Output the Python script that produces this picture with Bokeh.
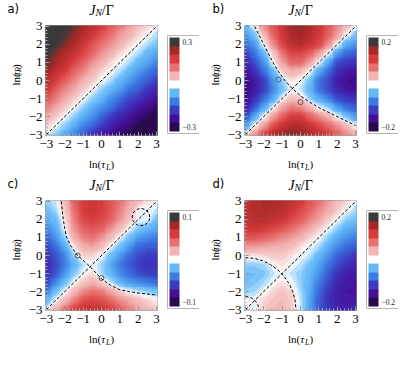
import numpy as np
from bokeh.plotting import figure
from bokeh.layouts import column, row
from bokeh.models import (LinearColorMapper, ColorBar, FixedTicker,
                          CustomJSTickFormatter, Label, Range1d)
from bokeh.embed import file_html
from bokeh.resources import INLINE

# ---------------- data ----------------
ln_tau = [-3.0, -2.5, -2.0, -1.5, -1.0, -0.5, 0.0, 0.5, 1.0, 1.5, 2.0, 2.5, 3.0]
axis_ticks = [-3, -2, -1, 0, 1, 2, 3]
panel_letters = ["a)", "b)", "c)", "d)"]
color_limits = [0.3, 0.2, 0.1, 0.2]

# rows: ln(tau_R) ascending, columns: ln(tau_L) ascending  (J_N / Gamma)
jn_a = [
    [0.00, -0.03, -0.07, -0.11, -0.15, -0.19, -0.22, -0.25, -0.28, -0.31, -0.33, -0.34, -0.35],
    [0.03, 0.00, -0.03, -0.07, -0.11, -0.14, -0.18, -0.21, -0.24, -0.26, -0.30, -0.32, -0.33],
    [0.07, 0.03, 0.00, -0.03, -0.07, -0.10, -0.14, -0.18, -0.21, -0.23, -0.26, -0.29, -0.31],
    [0.11, 0.07, 0.03, 0.00, -0.03, -0.07, -0.10, -0.13, -0.17, -0.20, -0.23, -0.25, -0.28],
    [0.15, 0.11, 0.07, 0.03, 0.00, -0.03, -0.06, -0.10, -0.13, -0.17, -0.19, -0.22, -0.24],
    [0.19, 0.14, 0.10, 0.07, 0.03, 0.00, -0.03, -0.06, -0.09, -0.13, -0.15, -0.19, -0.21],
    [0.22, 0.18, 0.14, 0.10, 0.06, 0.03, 0.00, -0.02, -0.06, -0.09, -0.12, -0.15, -0.18],
    [0.25, 0.21, 0.18, 0.13, 0.10, 0.06, 0.02, 0.00, -0.02, -0.06, -0.09, -0.12, -0.14],
    [0.28, 0.24, 0.21, 0.17, 0.13, 0.09, 0.06, 0.02, 0.00, -0.02, -0.06, -0.08, -0.11],
    [0.31, 0.26, 0.23, 0.20, 0.17, 0.13, 0.09, 0.06, 0.02, 0.00, -0.02, -0.06, -0.08],
    [0.32, 0.30, 0.26, 0.23, 0.19, 0.15, 0.12, 0.09, 0.06, 0.02, 0.00, -0.02, -0.04],
    [0.34, 0.32, 0.29, 0.25, 0.22, 0.19, 0.15, 0.12, 0.08, 0.06, 0.02, 0.00, -0.02],
    [0.35, 0.33, 0.31, 0.28, 0.24, 0.21, 0.18, 0.14, 0.11, 0.08, 0.04, 0.02, 0.00],
]
jn_b = [
    [0.000, 0.060, 0.110, 0.150, 0.170, 0.175, 0.170, 0.155, 0.140, 0.120, 0.090, 0.065, 0.040],
    [-0.060, 0.000, 0.050, 0.100, 0.130, 0.150, 0.150, 0.130, 0.110, 0.085, 0.060, 0.030, 0.000],
    [-0.110, -0.050, 0.000, 0.050, 0.090, 0.120, 0.120, 0.090, 0.065, 0.040, 0.000, -0.030, -0.060],
    [-0.150, -0.100, -0.050, 0.000, 0.050, 0.075, 0.065, 0.040, 0.000, -0.020, -0.060, -0.085, -0.100],
    [-0.170, -0.130, -0.090, -0.050, 0.000, 0.030, 0.020, -0.020, -0.050, -0.075, -0.110, -0.125, -0.130],
    [-0.175, -0.150, -0.120, -0.075, -0.030, 0.000, -0.010, -0.040, -0.085, -0.110, -0.140, -0.155, -0.160],
    [-0.170, -0.150, -0.120, -0.065, -0.020, 0.010, 0.000, -0.030, -0.085, -0.110, -0.150, -0.160, -0.170],
    [-0.155, -0.130, -0.090, -0.040, 0.020, 0.040, 0.030, 0.000, -0.050, -0.090, -0.130, -0.150, -0.155],
    [-0.140, -0.110, -0.065, 0.000, 0.050, 0.085, 0.085, 0.050, 0.000, -0.050, -0.110, -0.125, -0.130],
    [-0.120, -0.085, -0.040, 0.020, 0.075, 0.110, 0.110, 0.090, 0.050, 0.000, -0.060, -0.090, -0.100],
    [-0.090, -0.060, 0.000, 0.060, 0.110, 0.140, 0.150, 0.130, 0.110, 0.060, 0.000, -0.050, -0.065],
    [-0.065, -0.030, 0.030, 0.085, 0.125, 0.155, 0.160, 0.150, 0.125, 0.090, 0.050, 0.000, -0.030],
    [-0.040, 0.000, 0.060, 0.100, 0.130, 0.160, 0.170, 0.155, 0.130, 0.100, 0.065, 0.030, 0.000],
]
jn_c = [
    [0.000, 0.020, 0.040, 0.057, 0.067, 0.070, 0.066, 0.058, 0.048, 0.036, 0.025, 0.016, 0.010],
    [-0.020, 0.000, 0.016, 0.036, 0.052, 0.057, 0.053, 0.044, 0.032, 0.024, 0.016, 0.008, 0.004],
    [-0.040, -0.016, 0.000, 0.016, 0.032, 0.040, 0.036, 0.024, 0.010, 0.000, -0.005, -0.010, -0.015],
    [-0.057, -0.036, -0.016, 0.000, 0.012, 0.020, 0.010, -0.005, -0.020, -0.030, -0.035, -0.040, -0.045],
    [-0.067, -0.052, -0.032, -0.012, 0.000, 0.006, -0.008, -0.020, -0.035, -0.045, -0.055, -0.060, -0.060],
    [-0.070, -0.057, -0.040, -0.020, -0.006, 0.000, -0.008, -0.025, -0.040, -0.050, -0.060, -0.065, -0.065],
    [-0.066, -0.053, -0.036, -0.010, 0.008, 0.008, 0.000, -0.015, -0.030, -0.045, -0.055, -0.060, -0.060],
    [-0.058, -0.044, -0.024, 0.005, 0.020, 0.025, 0.015, 0.000, -0.015, -0.030, -0.045, -0.050, -0.050],
    [-0.048, -0.032, -0.010, 0.020, 0.035, 0.040, 0.030, 0.015, 0.000, -0.015, -0.030, -0.035, -0.040],
    [-0.036, -0.024, 0.000, 0.030, 0.045, 0.050, 0.045, 0.030, 0.015, 0.000, -0.012, -0.020, -0.025],
    [-0.025, -0.016, 0.005, 0.035, 0.055, 0.060, 0.055, 0.045, 0.030, 0.012, 0.000, 0.000, -0.015],
    [-0.016, -0.008, 0.010, 0.040, 0.060, 0.065, 0.060, 0.050, 0.035, 0.020, 0.000, 0.000, -0.005],
    [-0.010, -0.004, 0.015, 0.045, 0.060, 0.065, 0.060, 0.050, 0.040, 0.025, 0.015, 0.005, 0.000],
]
jn_d = [
    [0.000, -0.005, 0.020, 0.030, 0.030, 0.020, -0.010, -0.055, -0.100, -0.125, -0.140, -0.145, -0.140],
    [0.005, 0.000, 0.015, 0.025, 0.030, 0.020, -0.010, -0.055, -0.100, -0.130, -0.145, -0.150, -0.150],
    [-0.020, -0.015, 0.000, 0.015, 0.025, 0.015, -0.015, -0.050, -0.090, -0.125, -0.145, -0.155, -0.155],
    [-0.030, -0.025, -0.015, 0.000, 0.010, 0.000, -0.020, -0.045, -0.080, -0.110, -0.140, -0.150, -0.155],
    [-0.030, -0.030, -0.025, -0.010, 0.000, -0.010, -0.020, -0.040, -0.065, -0.100, -0.130, -0.145, -0.150],
    [-0.020, -0.020, -0.015, 0.000, 0.010, 0.000, -0.010, -0.030, -0.055, -0.085, -0.110, -0.130, -0.140],
    [0.010, 0.010, 0.015, 0.020, 0.020, 0.010, 0.000, -0.010, -0.040, -0.065, -0.095, -0.110, -0.125],
    [0.055, 0.055, 0.050, 0.045, 0.040, 0.030, 0.010, 0.000, -0.015, -0.045, -0.070, -0.090, -0.100],
    [0.100, 0.100, 0.090, 0.080, 0.065, 0.055, 0.040, 0.015, 0.000, -0.020, -0.050, -0.065, -0.080],
    [0.125, 0.130, 0.125, 0.110, 0.100, 0.085, 0.065, 0.045, 0.020, 0.000, -0.020, -0.045, -0.055],
    [0.140, 0.145, 0.145, 0.140, 0.130, 0.110, 0.095, 0.070, 0.050, 0.020, 0.000, -0.020, -0.030],
    [0.145, 0.150, 0.155, 0.150, 0.145, 0.130, 0.110, 0.090, 0.065, 0.045, 0.020, 0.000, -0.015],
    [0.140, 0.150, 0.155, 0.155, 0.150, 0.140, 0.125, 0.100, 0.080, 0.055, 0.030, 0.015, 0.000],
]

# zero contours (dashed)
diag_x = [-3.0, 3.0]
diag_y = [-3.0, 3.0]
curve_b_x = [-2.5, -2.25, -2.0, -1.75, -1.5, -1.2, -0.85, -0.45, 0.0, 0.5, 1.0, 1.5, 2.0, 2.5, 3.0]
curve_b_y = [3.0, 2.5, 2.0, 1.5, 1.0, 0.5, 0.0, -0.45, -0.85, -1.2, -1.5, -1.75, -2.0, -2.25, -2.5]
marks_b_x = [-1.2, 0.0]
marks_b_y = [0.05, -1.2]
curve_c_x = [-2.19, -2.14, -2.08, -2.0, -1.9, -1.65, -1.3, -0.75, -0.62, -0.5, 0.0, 0.5, 1.0, 1.5, 2.0, 2.5, 3.0]
curve_c_y = [3.0, 2.5, 2.0, 1.5, 1.0, 0.5, 0.0, -0.5, -0.62, -0.75, -1.3, -1.65, -1.9, -2.0, -2.08, -2.14, -2.19]
loop_c_x = [2.63, 2.59, 2.49, 2.33, 2.15, 1.97, 1.81, 1.71, 1.67, 1.71, 1.81, 1.97, 2.15, 2.33, 2.49, 2.59, 2.63]
loop_c_y = [2.13, 2.31, 2.47, 2.57, 2.61, 2.57, 2.47, 2.31, 2.13, 1.95, 1.79, 1.69, 1.65, 1.69, 1.79, 1.95, 2.13]
marks_c_x = [-1.3, 0.0]
marks_c_y = [0.0, -1.25]
arc_d_x = [-3.0, -2.52, -2.06, -1.63, -1.24, -0.90, -0.62, -0.42, -0.29, -0.25]
arc_d_y = [-0.12, -0.16, -0.29, -0.51, -0.79, -1.15, -1.56, -2.01, -2.5, -3.0]
arc2_d_x = [-3.0, -2.86, -2.72, -2.60, -2.49, -2.40, -2.33, -2.29, -2.28]
arc2_d_y = [-2.28, -2.29, -2.33, -2.40, -2.49, -2.60, -2.72, -2.86, -3.0]

# ---------------- styling ----------------
band_colors = ["#2a0a4e", "#460f98", "#3c3cc2", "#3c7ce2", "#64b8f8", "#ffffff",
               "#f2b4b4", "#e87070", "#d63c3c", "#a82828", "#3a3a3a"]
RGB = [[int(c[i:i + 2], 16) for i in (1, 3, 5)] for c in band_colors]


def color_at(frac):
    """frac in [0,1] across [-1.1*lim, 1.1*lim] -> blended band colour."""
    pos = min(max(frac * 11 - 0.5, 0.0), 10.0)
    i = min(int(pos), 9)
    t = pos - i
    if i == 4:            # light blue -> white: keep colour until close to zero
        t = t ** 1.8
    elif i == 5:          # white -> pink
        t = 1 - (1 - t) ** 1.8
    c = [round(RGB[i][m] * (1 - t) + RGB[i + 1][m] * t) for m in range(3)]
    return "#%02x%02x%02x" % tuple(c)


SMOOTH = [color_at((k + 0.5) / 256) for k in range(256)]
NLEV = 60

PW, PH = 199, 175           # one panel block
TS = 17                     # title strip height
YS = 24                     # y-label strip width
MT, MB, ML, MR = 8, 21, 21, 42
FW, FH = PW - YS - ML - MR, 110
MH = MT + FH + MB
XS = PH - TS - MH           # x-label strip height
XMIN, XMAX = -3.05, 3.05
FCX = YS + ML + FW / 2      # frame centre x inside a block
MINUS_FMT = "return (tick < 0 ? '\u2212' : '') + Math.abs(Math.round(tick*100)/100);"


def strip(w, h):
    s = figure(width=w, height=h, x_range=Range1d(0, w), y_range=Range1d(h, 0),
               output_backend="svg", toolbar_location=None, min_border=0,
               x_axis_type=None, y_axis_type=None, outline_line_color=None,
               background_fill_color="white", border_fill_color="white")
    s.grid.visible = False
    return s


def txt(p, x, y, text, size, font="Liberation Serif", style="normal", angle=0.0):
    p.add_layout(Label(x=x, y=y, text=text, text_font=font, text_font_size=f"{size}px",
                       text_font_style=style, text_align="left", text_baseline="middle",
                       angle=angle, text_color="black"))


def panel(letter, data, lim, lines, marks, letter_x):
    p = figure(width=PW - YS, height=MH, x_range=Range1d(XMIN, XMAX), y_range=Range1d(XMIN, XMAX),
               output_backend="svg", toolbar_location=None,
               min_border_left=ML, min_border_right=MR, min_border_top=MT, min_border_bottom=MB,
               background_fill_color="white", border_fill_color="white",
               outline_line_color="#9a9a9a", outline_line_width=1)
    p.grid.visible = False
    z = np.array(data, dtype=float)
    mapper = LinearColorMapper(palette=SMOOTH, low=-1.1 * lim, high=1.1 * lim)
    p.image(image=[z], x=ln_tau[0] - 0.25, y=ln_tau[0] - 0.25,
            dw=ln_tau[-1] - ln_tau[0] + 0.5, dh=ln_tau[-1] - ln_tau[0] + 0.5,
            color_mapper=mapper)
    levels = list(np.linspace(-1.1 * lim, 1.1 * lim, NLEV + 1))
    fills = [color_at((k + 0.5) / NLEV) for k in range(NLEV)]
    p.contour(x=ln_tau, y=ln_tau, z=z, levels=levels, fill_color=fills, line_color=None)
    for lx, ly in lines:
        p.line(lx, ly, line_color="black", line_width=1, line_dash="3 2")
    for mx, my, mc in marks:
        p.scatter(mx, my, size=5, marker="circle", fill_color=None, line_color=mc, line_width=1)

    minor = [round(v, 2) for v in np.arange(-3.0, 3.01, 0.2)]
    for ax in (p.xaxis[0], p.yaxis[0]):
        ax.ticker = FixedTicker(ticks=axis_ticks, minor_ticks=minor)
        ax.formatter = CustomJSTickFormatter(code=MINUS_FMT)
        ax.axis_line_color = None
        ax.major_tick_in = 4
        ax.major_tick_out = 0
        ax.major_tick_line_color = "#8a8a8a"
        ax.minor_tick_in = 2
        ax.minor_tick_out = 0
        ax.minor_tick_line_color = "#b0b0b0"
        ax.major_label_text_font = "Liberation Serif"
        ax.major_label_text_font_size = "13px"
        ax.major_label_text_color = "black"
    p.xaxis[0].major_label_standoff = 4
    p.yaxis[0].major_label_standoff = 3

    cb_mapper = LinearColorMapper(palette=band_colors, low=-1.1 * lim, high=1.1 * lim)
    cb = ColorBar(color_mapper=cb_mapper, location=(FW + 10, 2), orientation="vertical",
                  width=10, height=94, padding=2, margin=0, label_standoff=3,
                  ticker=FixedTicker(ticks=[-lim, lim]),
                  formatter=CustomJSTickFormatter(code=MINUS_FMT),
                  major_label_text_font="Liberation Serif", major_label_text_font_size="7.5px",
                  major_label_text_color="#222222",
                  major_tick_line_color=None, minor_tick_line_color=None,
                  bar_line_color=None, border_line_color="#b4b4b4",
                  background_fill_color="white")
    p.add_layout(cb)

    # title strip: panel letter and J_N/Γ
    top = strip(PW, TS)
    txt(top, letter_x, 8, letter, 11.5, font="DejaVu Sans")
    x0 = FCX - 12.3
    txt(top, x0, 9.5, "J", 14, style="italic")
    txt(top, x0 + 6.2, 12, "N", 9.5, style="italic")
    txt(top, x0 + 12.6, 9.5, "/\u0393", 14)

    # y-label strip: ln(τ_R), rotated
    yl = strip(YS, MH)
    yc = MT + FH / 2
    a = np.pi / 2
    txt(yl, 15.0, yc + 12.8, "ln(", 11, angle=a)
    txt(yl, 15.0, yc + 0.6, "\u03c4", 11, style="italic", angle=a)
    txt(yl, 18.2, yc - 4.3, "R", 8, style="italic", angle=a)
    txt(yl, 15.0, yc - 9.2, ")", 11, angle=a)

    # x-label strip: ln(τ_L)
    xl = strip(PW, XS)
    x0 = FCX - 12.5
    txt(xl, x0, 7.5, "ln(", 11)
    txt(xl, x0 + 12.2, 7.5, "\u03c4", 11, style="italic")
    txt(xl, x0 + 17.0, 10.5, "L", 8, style="italic")
    txt(xl, x0 + 21.6, 7.5, ")", 11)

    return column(top, row(yl, p, spacing=0), xl, spacing=0)


pa = panel(panel_letters[0], jn_a, color_limits[0], [(diag_x, diag_y)], [], 7)
pb = panel(panel_letters[1], jn_b, color_limits[1], [(diag_x, diag_y), (curve_b_x, curve_b_y)],
           [([marks_b_x[0]], [marks_b_y[0]], "#4a6a8c"), ([marks_b_x[1]], [marks_b_y[1]], "#7a4a4a")], 13)
pc = panel(panel_letters[2], jn_c, color_limits[2],
           [(diag_x, diag_y), (curve_c_x, curve_c_y), (loop_c_x, loop_c_y)],
           [(marks_c_x, marks_c_y, "#505050")], 7)
pd = panel(panel_letters[3], jn_d, color_limits[3],
           [(diag_x, diag_y), (arc_d_x, arc_d_y), (arc2_d_x, arc2_d_y)], [], 13)

layout = column(row(pa, pb, spacing=0), row(pc, pd, spacing=0), spacing=0)
open("out.html", "w").write(file_html(layout, INLINE))
